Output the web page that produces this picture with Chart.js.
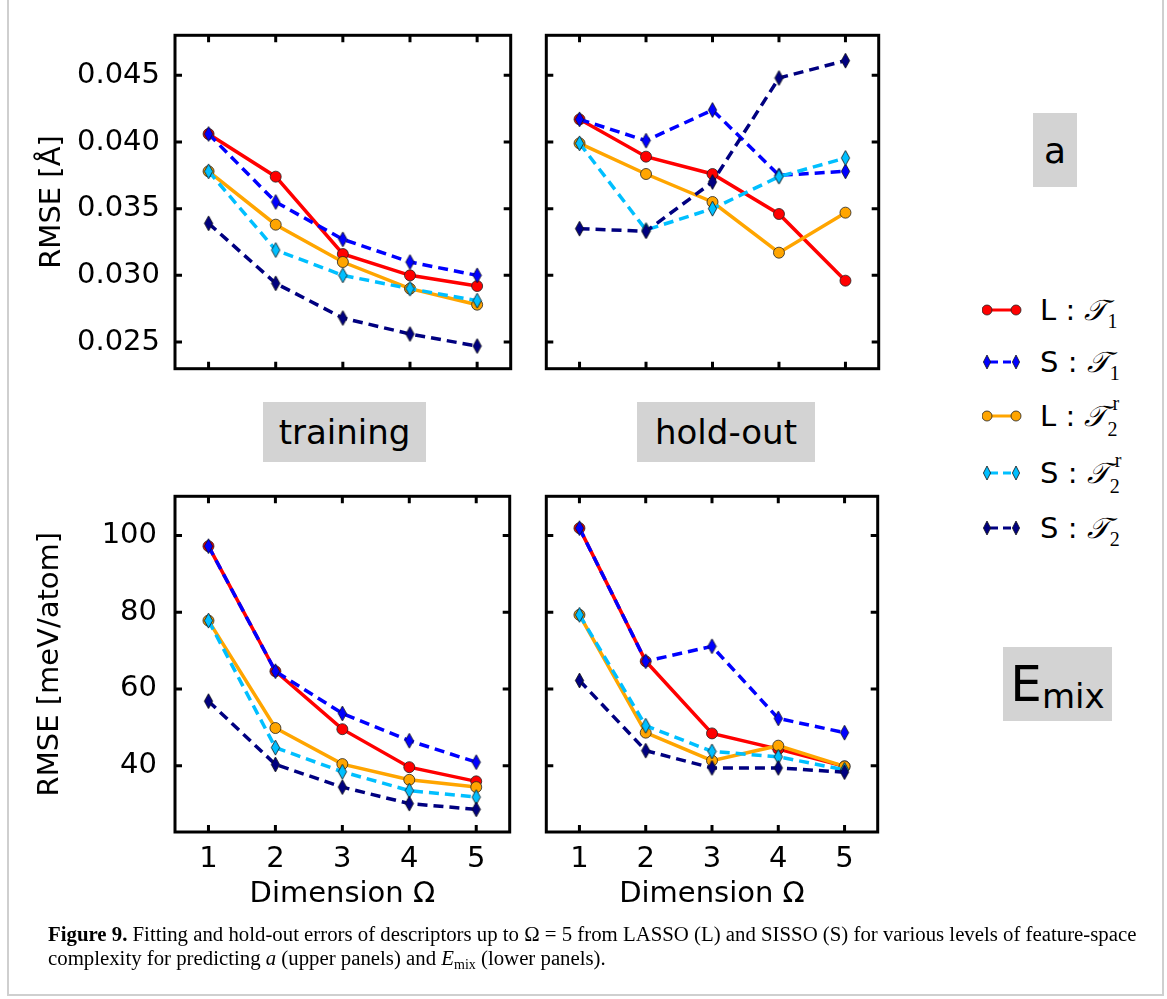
<!DOCTYPE html>
<html>
<head>
<meta charset="utf-8">
<script src="https://cdn.jsdelivr.net/npm/chart.js@4.4.1/dist/chart.umd.min.js"></script>
<style>
  body { margin: 0; background: #fff; }
  #fig { position: relative; width: 1167px; height: 999px; overflow: hidden; font-family: "DejaVu Sans", sans-serif; }
  #fig canvas { position: absolute; }
  .frame { position: absolute; left: 7px; top: -3px; width: 1153px; height: 995px; border: 2px solid #cfcfcf; }
  .tag { position: absolute; background: #d3d3d3; display: flex; align-items: center; justify-content: center; color: #000; }
  .legend { position: absolute; left: 982px; top: 0; }
  .row { position: absolute; left: 0; width: 180px; height: 40px; display: flex; align-items: center; }
  .row svg { flex: none; }
  .row .lab { margin-left: 18px; font-size: 29px; white-space: nowrap; }
  .cal { font-family: "DejaVu Serif", "Noto Sans", serif; font-style: italic; }
  .ix { font-family: "Liberation Serif", serif; font-size: 20px; position: relative; top: 8px; margin-left: 1px; }
  .ss { display: inline-block; position: relative; width: 16px; height: 10px; font-family: "Liberation Serif", serif; font-size: 20px; }
  .ss .sup { position: absolute; left: 6px; top: -24px; }
  .ss .sub { position: absolute; left: 1px; top: 2px; }
  .caption { position: absolute; left: 48px; top: 922px; font-family: "Liberation Serif", serif; font-size: 20.8px; line-height: 24px; color: #000; white-space: nowrap; }
</style>
</head>
<body>
<div id="fig">
  <div class="frame"></div>
  <canvas id="tl" width="517" height="346" style="left:0px;top:29px"></canvas>
  <canvas id="tr" width="345" height="346" style="left:540px;top:29px"></canvas>
  <canvas id="bl" width="516" height="440" style="left:0px;top:490px"></canvas>
  <canvas id="br" width="344" height="440" style="left:540px;top:490px"></canvas>

  <div class="tag" style="left:263px;top:402px;width:163px;height:60px;font-size:34px;">training</div>
  <div class="tag" style="left:637px;top:402px;width:178px;height:60px;font-size:34px;">hold-out</div>
  <div class="tag" style="left:1033px;top:113px;width:44px;height:74px;font-size:36px;">a</div>
  <div class="tag" style="left:1003px;top:647px;width:109px;height:74px;"><span style="font-size:50px;">E</span><span style="font-size:34px;position:relative;top:12px;">mix</span></div>

  <div class="legend" id="legend"></div>

  <div class="caption">
    <b>Figure 9.</b> Fitting and hold-out errors of descriptors up to Ω = 5 from LASSO (L) and SISSO (S) for various levels of feature-space<br>
    complexity for predicting <i>a</i> (upper panels) and <i>E</i><span style="font-size:14px;position:relative;top:4px;">mix</span> (lower panels).
  </div>
</div>
<script>
// x categories: descriptor dimension
const dims = ['1', '2', '3', '4', '5'];

// lattice constant a, RMSE [Å], training
const aTrainL1  = [0.0406, 0.0374, 0.0316, 0.0300, 0.0292];
const aTrainS1  = [0.0406, 0.0355, 0.0327, 0.0310, 0.0300];
const aTrainL2r = [0.0378, 0.0338, 0.0310, 0.0290, 0.0278];
const aTrainS2r = [0.0378, 0.0319, 0.0300, 0.0290, 0.0281];
const aTrainS2  = [0.0339, 0.0294, 0.0268, 0.0256, 0.0247];

// lattice constant a, hold-out
const aHoldL1  = [0.0417, 0.0389, 0.0376, 0.0346, 0.0296];
const aHoldS1  = [0.0417, 0.0401, 0.0424, 0.0375, 0.0378];
const aHoldL2r = [0.0399, 0.0376, 0.0355, 0.0317, 0.0347];
const aHoldS2r = [0.0399, 0.0334, 0.0350, 0.0374, 0.0388];
const aHoldS2  = [0.0335, 0.0333, 0.0370, 0.0448, 0.0461];

// mixing energy, RMSE [meV/atom], training
const eTrainL1  = [97.2, 64.6, 49.5, 39.6, 35.9];
const eTrainS1  = [97.2, 64.6, 53.6, 46.5, 40.9];
const eTrainL2r = [77.8, 49.8, 40.4, 36.3, 34.4];
const eTrainS2r = [77.8, 44.7, 38.4, 33.5, 31.8];
const eTrainS2  = [56.8, 40.3, 34.4, 30.1, 28.6];

// mixing energy, hold-out
const eHoldL1  = [101.9, 67.2, 48.4, 44.3, 39.8];
const eHoldS1  = [101.9, 67.2, 71.1, 52.3, 48.6];
const eHoldL2r = [79.3, 48.6, 41.3, 45.2, 39.8];
const eHoldS2r = [79.3, 50.4, 43.7, 42.3, 38.9];
const eHoldS2  = [62.2, 43.9, 39.4, 39.4, 38.3];

// axis ticks
const aTicks = [0.025, 0.030, 0.035, 0.040, 0.045];
const eTicks = [40, 60, 80, 100];

// series look, same order as above (L:T1, S:T1, L:T2r, S:T2r, S:T2)
const colors  = ['#ff0000', '#0000ff', '#ffa500', '#00bfff', '#000080'];
const dashed  = [false, true, false, true, true];

// thin diamond marker like matplotlib 'd'
function diamond(fill) {
  const c = document.createElement('canvas');
  c.width = 11; c.height = 17;
  const g = c.getContext('2d');
  g.beginPath();
  g.moveTo(5.5, 1); g.lineTo(9.7, 8.5); g.lineTo(5.5, 16); g.lineTo(1.3, 8.5); g.closePath();
  g.fillStyle = fill; g.fill();
  g.lineWidth = 0.8; g.strokeStyle = '#111'; g.stroke();
  return c;
}

function makeSets(series) {
  return series.map((vals, i) => ({
    data: vals,
    borderColor: colors[i],
    borderWidth: 3.5,
    borderDash: dashed[i] ? [10, 6] : [],
    pointStyle: dashed[i] ? diamond(colors[i]) : 'circle',
    pointRadius: 5.5,
    pointBackgroundColor: colors[i],
    pointBorderColor: '#222',
    pointBorderWidth: 0.8,
    tension: 0,
    fill: false,
    order: series.length - i
  }));
}

// black box and inward ticks on all four sides
const boxPlugin = {
  id: 'box',
  afterDraw(chart) {
    const { ctx, chartArea: a, scales } = chart;
    ctx.save();
    ctx.strokeStyle = '#000';
    ctx.lineWidth = 3;
    ctx.strokeRect(a.left, a.top, a.right - a.left, a.bottom - a.top);
    ctx.beginPath();
    scales.x.ticks.forEach((t, i) => {
      const px = scales.x.getPixelForTick(i);
      ctx.moveTo(px, a.bottom); ctx.lineTo(px, a.bottom - 7);
      ctx.moveTo(px, a.top); ctx.lineTo(px, a.top + 7);
    });
    scales.y.ticks.forEach(t => {
      const py = scales.y.getPixelForValue(t.value);
      ctx.moveTo(a.left, py); ctx.lineTo(a.left + 7, py);
      ctx.moveTo(a.right, py); ctx.lineTo(a.right - 7, py);
    });
    ctx.stroke();
    ctx.restore();
  }
};

const font = { family: 'DejaVu Sans', size: 29 };

function noPad(s) {
  s.paddingTop = 0; s.paddingBottom = 0; s.paddingLeft = 0; s.paddingRight = 0;
}

function panel(id, series, o) {
  new Chart(document.getElementById(id), {
    type: 'line',
    data: { labels: dims, datasets: makeSets(series) },
    options: {
      responsive: false,
      animation: false,
      layout: { padding: { top: 4, right: 4, left: 0, bottom: 0 } },
      plugins: { legend: { display: false }, tooltip: { enabled: false } },
      scales: {
        x: {
          type: 'category',
          offset: true,
          grid: { display: false, drawTicks: false },
          border: { display: false },
          ticks: { display: o.xLabels, color: '#000', font: font, padding: 10, maxRotation: 0 },
          title: { display: o.xLabels, text: 'Dimension Ω', color: '#000', font: font, padding: { top: 0, bottom: 18 } },
          afterFit: s => { s.height = o.xh; noPad(s); }
        },
        y: {
          min: o.min, max: o.max,
          grid: { display: false, drawTicks: false },
          border: { display: false },
          afterBuildTicks: s => { s.ticks = o.ticks.map(v => ({ value: v })); },
          ticks: { display: o.yLabels, color: '#000', font: font, padding: o.pad, callback: o.fmt },
          title: { display: o.yLabels, text: o.title, color: '#000', font: font, padding: { top: o.tpad, bottom: 0 } },
          afterFit: s => { s.width = o.yw; noPad(s); }
        }
      }
    },
    plugins: [boxPlugin]
  });
}

const fmtA = v => v.toFixed(3);
const fmtE = v => String(v);

panel('tl', [aTrainL1, aTrainS1, aTrainL2r, aTrainS2r, aTrainS2],
  { min: 0.023, max: 0.048, ticks: aTicks, fmt: fmtA, yLabels: true, xLabels: false, yw: 175, xh: 4, pad: 15, tpad: 35, title: 'RMSE [Å]' });
panel('tr', [aHoldL1, aHoldS1, aHoldL2r, aHoldS2r, aHoldS2],
  { min: 0.023, max: 0.048, ticks: aTicks, fmt: fmtA, yLabels: false, xLabels: false, yw: 6, xh: 4, pad: 15, tpad: 0, title: '' });
panel('bl', [eTrainL1, eTrainS1, eTrainL2r, eTrainS2r, eTrainS2],
  { min: 22.7, max: 110.2, ticks: eTicks, fmt: fmtE, yLabels: true, xLabels: true, yw: 175, xh: 98, pad: 18, tpad: 33, title: 'RMSE [meV/atom]' });
panel('br', [eHoldL1, eHoldS1, eHoldL2r, eHoldS2r, eHoldS2],
  { min: 22.7, max: 110.2, ticks: eTicks, fmt: fmtE, yLabels: false, xLabels: true, yw: 5, xh: 98, pad: 18, tpad: 0, title: '' });

// legend rows
const legendRows = [
  { lab: 'L : <span class="cal">𝒯</span><span class="ix">1</span>', y: 310 },
  { lab: 'S : <span class="cal">𝒯</span><span class="ix">1</span>', y: 362 },
  { lab: 'L : <span class="cal">𝒯</span><span class="ss"><span class="sup">r</span><span class="sub">2</span></span>', y: 416 },
  { lab: 'S : <span class="cal">𝒯</span><span class="ss"><span class="sup">r</span><span class="sub">2</span></span>', y: 473 },
  { lab: 'S : <span class="cal">𝒯</span><span class="ix">2</span>', y: 528 }
];
const legend = document.getElementById('legend');
legendRows.forEach((r, i) => {
  const c = colors[i];
  const mk = dashed[i]
    ? `<polygon points="5,3 8.6,10 5,17 1.4,10" fill="${c}" stroke="#111" stroke-width="0.8"/><polygon points="34,3 37.6,10 34,17 30.4,10" fill="${c}" stroke="#111" stroke-width="0.8"/>`
    : `<circle cx="5" cy="10" r="5" fill="${c}" stroke="#222" stroke-width="0.8"/><circle cx="34" cy="10" r="5" fill="${c}" stroke="#222" stroke-width="0.8"/>`;
  const line = dashed[i]
    ? `<line x1="8" y1="10" x2="31" y2="10" stroke="${c}" stroke-width="3" stroke-dasharray="8,5"/>`
    : `<line x1="5" y1="10" x2="34" y2="10" stroke="${c}" stroke-width="3"/>`;
  const d = document.createElement('div');
  d.className = 'row';
  d.style.top = (r.y - 20) + 'px';
  d.innerHTML = `<svg width="40" height="20">${line}${mk}</svg><span class="lab">${r.lab}</span>`;
  legend.appendChild(d);
});
</script>
</body>
</html>
